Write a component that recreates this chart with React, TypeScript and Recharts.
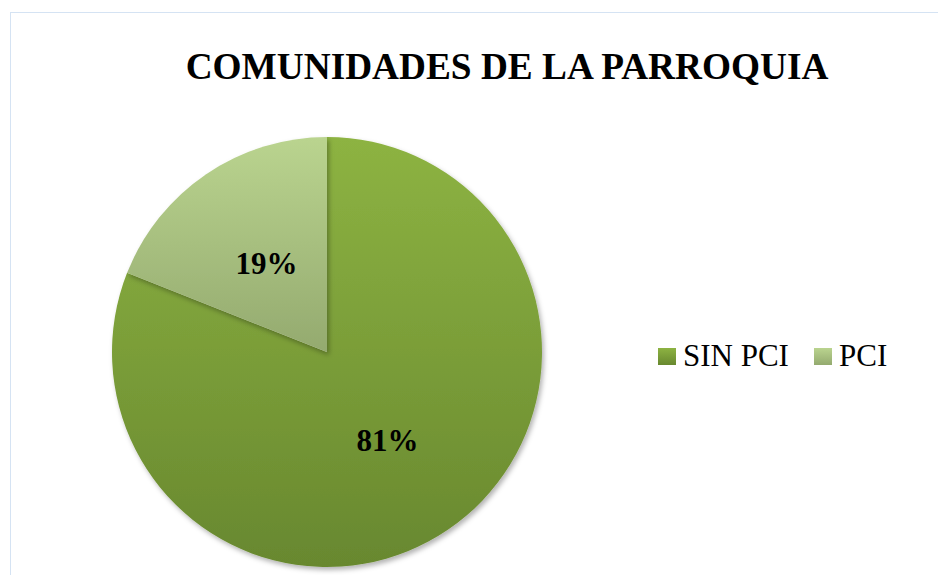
import React from "react";
import { PieChart, Pie, Cell, Legend } from "recharts";

const categories = ["SIN PCI", "PCI"];
const shares = [81, 19];
const title = "COMUNIDADES DE LA PARROQUIA";

const data = categories.map((name, i) => ({ name, value: shares[i] }));

const gradients = [
  { id: "gSin", top: "#8db342", bottom: "#68882f" },
  { id: "gPci", top: "#bad48f", bottom: "#94aa6f" },
];

const SERIF = "Liberation Serif, Times New Roman, serif";
const RAD = Math.PI / 180;

function renderLabel(props: any) {
  const { cx, cy, midAngle, outerRadius, value } = props;
  const r = outerRadius * 0.5;
  const x = cx + r * Math.cos(-midAngle * RAD);
  const y = cy + r * Math.sin(-midAngle * RAD);
  return (
    <text
      x={x}
      y={y}
      textAnchor="middle"
      dominantBaseline="central"
      fontFamily={SERIF}
      fontWeight="bold"
      fontSize={31}
      fill="#000"
    >
      {value}%
    </text>
  );
}

// legend drawn as svg so the serif face is used
function renderLegend() {
  const itemX = [0, 156];
  return (
    <svg width={270} height={40} style={{ overflow: "visible" }}>
      <defs>
        {gradients.map((g) => (
          <linearGradient key={g.id} id={g.id + "L"} x1="0" y1="0" x2="0" y2="1">
            <stop offset="0%" stopColor={g.top} />
            <stop offset="100%" stopColor={g.bottom} />
          </linearGradient>
        ))}
      </defs>
      {categories.map((c, i) => (
        <g key={c} transform={`translate(${itemX[i]},0)`}>
          <rect x={0} y={10} width={18} height={17} fill={`url(#${gradients[i].id}L)`} />
          <text x={25} y={28} fontFamily={SERIF} fontSize={31} fill="#000">
            {c}
          </text>
        </g>
      ))}
    </svg>
  );
}

export default function App() {
  return (
    <div
      style={{
        position: "fixed",
        left: 0,
        top: 0,
        width: 938,
        height: 575,
        background: "#fff",
        overflow: "hidden",
      }}
    >
      <div
        style={{
          position: "absolute",
          left: 10,
          top: 12,
          width: 940,
          height: 580,
          borderLeft: "1px solid #d5e3f3",
          borderTop: "1px solid #d5e3f3",
        }}
      />
      <svg style={{ position: "absolute", left: 0, top: 0 }} width={938} height={120}>
        <text
          x={507}
          y={79}
          textAnchor="middle"
          fontFamily={SERIF}
          fontWeight="bold"
          fontSize={37.3}
          fill="#000"
        >
          {title}
        </text>
      </svg>
      <div style={{ position: "absolute", left: 0, top: 0 }}>
        <PieChart width={938} height={575} margin={{ top: 0, right: 0, bottom: 0, left: 0 }}>
          <defs>
            {gradients.map((g) => (
              <linearGradient key={g.id} id={g.id} x1="0" y1="0" x2="0" y2="1">
                <stop offset="0%" stopColor={g.top} />
                <stop offset="100%" stopColor={g.bottom} />
              </linearGradient>
            ))}
            <filter id="pieShadow" x="-10%" y="-10%" width="120%" height="120%">
              <feDropShadow dx="2" dy="3" stdDeviation="2.5" floodColor="#000" floodOpacity="0.3" />
            </filter>
          </defs>
          <Pie
            data={data}
            dataKey="value"
            nameKey="name"
            cx={327}
            cy={352}
            outerRadius={215}
            startAngle={90}
            endAngle={-270}
            stroke="none"
            label={renderLabel}
            labelLine={false}
            isAnimationActive={false}
            style={{ filter: "url(#pieShadow)" }}
          >
            {data.map((d, i) => (
              <Cell key={d.name} fill={`url(#${gradients[i].id})`} />
            ))}
          </Pie>
          <Legend
            layout="horizontal"
            verticalAlign="middle"
            align="right"
            content={renderLegend}
            wrapperStyle={{ left: 658, top: 338, width: 270, height: 40 }}
          />
        </PieChart>
      </div>
    </div>
  );
}
